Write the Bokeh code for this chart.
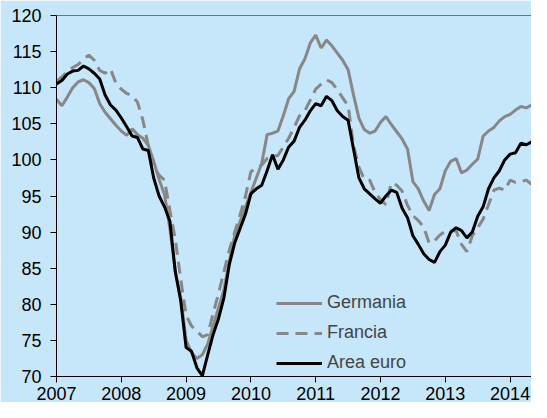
from bokeh.plotting import figure
from bokeh.models import Span, Legend, LegendItem, FixedTicker, ColumnDataSource
from bokeh.embed import file_html
from bokeh.resources import INLINE

# Monthly values, Jan 2007 .. Jul 2014
germania = [
    108.4, 107.5, 108.7, 110.0, 110.8, 111.1, 110.7, 109.9, 107.8, 106.6, 105.7, 104.8,  # 2007
    104.0, 103.4, 104.3, 103.5, 103.0, 102.0, 99.8, 97.3, 95.2, 90.5, 84.5, 81.0,        # 2008
    75.0, 73.3, 72.5, 73.0, 74.5, 77.0, 79.5, 82.0, 86.0, 89.5, 91.5, 93.5,              # 2009
    95.5, 97.5, 99.5, 103.5, 103.7, 104.0, 106.1, 108.5, 109.5, 112.6, 114.0, 116.2,     # 2010
    117.3, 115.5, 116.6, 115.8, 114.8, 113.8, 112.5, 109.0, 105.8, 104.2, 103.7, 104.0,  # 2011
    105.2, 106.0, 104.9, 103.9, 102.9, 101.5, 97.0, 96.0, 94.3, 93.0, 95.2, 96.0,        # 2012
    98.5, 99.8, 100.2, 98.2, 98.6, 99.4, 100.1, 103.3, 104.0, 104.5, 105.4, 106.0,       # 2013
    106.3, 106.9, 107.4, 107.2, 107.6, 107.2, 106.3,                                     # 2014
]
francia = [
    110.9, 111.5, 112.2, 112.8, 113.2, 114.0, 114.5, 113.8, 112.4, 112.0, 112.6, 110.6,  # 2007
    109.8, 109.2, 108.9, 108.0, 105.5, 102.0, 99.0, 97.9, 97.2, 93.0, 89.0, 83.5,        # 2008
    78.5, 77.0, 76.3, 75.5, 75.8, 78.7, 81.5, 84.5, 87.5, 90.0, 92.4, 95.0,              # 2009
    98.4, 98.8, 99.3, 100.2, 100.5, 100.6, 101.8, 103.0, 104.5, 106.1, 106.8, 108.3,     # 2010
    109.8, 110.5, 111.1, 110.7, 109.7, 108.6, 107.5, 102.0, 99.0, 97.3, 97.2, 95.5,      # 2011
    94.5, 93.8, 96.8, 96.5, 95.7, 93.7, 92.3, 91.6, 90.7, 88.5, 88.8, 89.6,              # 2012
    90.1, 90.2, 90.2, 88.3, 87.3, 89.5, 90.6, 91.8, 93.8, 95.8, 96.1, 95.8,              # 2013
    97.2, 96.9, 97.0, 97.2, 96.6, 96.0, 95.3,                                            # 2014
]
area_euro = [
    110.5, 111.0, 111.9, 112.3, 112.4, 113.0, 112.6, 112.0, 111.2, 109.0, 107.6, 106.9,  # 2007
    105.8, 104.6, 103.3, 103.1, 101.5, 101.3, 97.5, 95.0, 93.5, 91.5, 84.5, 80.5,        # 2008
    74.0, 73.5, 71.2, 70.1, 73.0, 75.8, 78.0, 80.9, 85.5, 88.5, 90.5, 92.5,              # 2009
    95.3, 96.0, 96.5, 98.5, 100.7, 98.7, 100.0, 101.8, 102.6, 104.5, 105.5, 106.8,       # 2010
    107.8, 107.5, 108.8, 108.2, 106.8, 106.0, 105.5, 101.5, 97.5, 96.0, 95.3, 94.6,      # 2011
    94.0, 95.0, 95.8, 95.5, 93.3, 92.0, 89.5, 88.3, 87.0, 86.2, 85.8, 87.3,              # 2012
    88.2, 90.0, 90.6, 90.2, 89.2, 90.0, 92.2, 93.5, 96.0, 97.5, 98.5, 100.0,             # 2013
    100.8, 101.0, 102.3, 102.1, 102.5, 102.0, 102.1,                                     # 2014
]
years = [2007, 2008, 2009, 2010, 2011, 2012, 2013, 2014]
y_ticks = [70, 75, 80, 85, 90, 95, 100, 105, 110, 115, 120]
series_names = ["Germania", "Francia", "Area euro"]

t = [2007 + m / 12 for m in range(len(area_euro))]
src = ColumnDataSource(dict(t=t, de=germania, fr=francia, ea=area_euro))

BG = "#C6E6FA"
FONT = "Liberation Sans"

p = figure(width=531, height=402, output_backend="svg", toolbar_location=None,
           x_range=(2007, 2014.33), y_range=(70, 120),
           min_border_left=56, min_border_right=0, min_border_top=15, min_border_bottom=10,
           background_fill_color=BG, border_fill_color=BG, outline_line_color=None)
p.grid.visible = False

for ax in (p.xaxis[0], p.yaxis[0]):
    ax.axis_line_color = "black"
    ax.axis_line_width = 1
    ax.major_tick_line_color = "black"
    ax.major_tick_out = 6
    ax.major_tick_in = 0
    ax.minor_tick_line_color = None
    ax.major_label_text_font = FONT
    ax.major_label_text_font_size = "18px"
    ax.major_label_text_color = "black"

p.xaxis.ticker = FixedTicker(ticks=years)
p.xaxis.major_label_overrides = {y: str(y) for y in years}
p.xaxis.major_label_standoff = 4
p.yaxis.ticker = FixedTicker(ticks=y_ticks)
p.yaxis.major_label_standoff = 9

p.add_layout(Span(location=120, dimension="width", line_color="black", line_width=1.2))

r_de = p.line("t", "de", source=src, line_color="#878787", line_width=3)
r_fr = p.line("t", "fr", source=src, line_color="#878787", line_width=3, line_dash="12 7")
r_ea = p.line("t", "ea", source=src, line_color="black", line_width=3)

legend = Legend(items=[LegendItem(label=series_names[0], renderers=[r_de]),
                       LegendItem(label=series_names[1], renderers=[r_fr]),
                       LegendItem(label=series_names[2], renderers=[r_ea])],
                location=(220, 3), border_line_color=None, background_fill_alpha=0,
                label_text_font=FONT, label_text_font_size="18px",
                glyph_width=46, glyph_height=20, spacing=9, label_standoff=5,
                padding=10, margin=0)
p.add_layout(legend)

open("out.html", "w").write(file_html(p, INLINE))
